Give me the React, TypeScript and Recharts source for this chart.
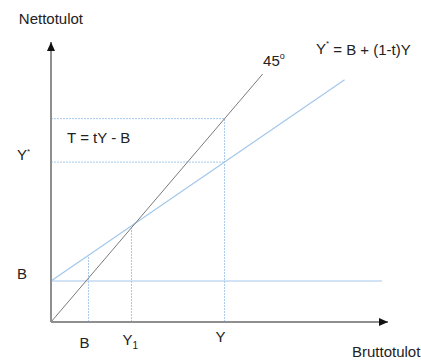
import React from "react";
import { ComposedChart, Line, XAxis, YAxis, ReferenceDot } from "recharts";

// Values in chart units (gross income on x, net income on y)
const B_VALUE = 1;
const B_X = 1.07;
const Y1_VALUE = 2.3;
const Y_VALUE = 4.96;
const YSTAR_VALUE = 3.9;
const X_MAX = 9.63;
const Y_MAX = 6.83;

const line45 = [
  { x: 0, y: 0 },
  { x: 6.05, y: 6.05 },
];
const netIncomeLine = [
  { x: 0, y: 1 },
  { x: 8.39, y: 5.91 },
];
const basicIncomeLine = [
  { x: 0, y: 1 },
  { x: 9.46, y: 1 },
];
const vertB = [
  { x: B_X, y: 0 },
  { x: B_X, y: 1.62 },
];
const vertY1 = [
  { x: Y1_VALUE, y: 0 },
  { x: Y1_VALUE, y: 2.3 },
];
const vertY = [
  { x: Y_VALUE, y: 0 },
  { x: Y_VALUE, y: Y_VALUE },
];
const horizY = [
  { x: 0, y: Y_VALUE },
  { x: Y_VALUE, y: Y_VALUE },
];
const horizYstar = [
  { x: 0, y: YSTAR_VALUE },
  { x: Y_VALUE, y: YSTAR_VALUE },
];

const xTicks = [B_X, Y1_VALUE, Y_VALUE];
const xTickLabels = ["B", "Y1", "Y"];
const yTicks = [B_VALUE, YSTAR_VALUE];
const yTickLabels = ["B", "Y*"];

const FONT = "'Liberation Sans', Arial, sans-serif";
const FS = 15;
const BLUE = "#a3c7ea";
const DOT_BLUE = "#a6c9ec";
const AXIS = "#8f8f8f";

const XTick = (props: any) => {
  const { x, payload } = props;
  const i = xTicks.indexOf(payload.value);
  const label = xTickLabels[i];
  const baseY = 322;
  if (label === "Y1") {
    return (
      <text x={x - 9} y={baseY + 23} fontSize={FS} fontFamily={FONT} fill="#222">
        Y<tspan fontSize={10} dy={4}>1</tspan>
      </text>
    );
  }
  const dy = label === "Y" ? 20 : 26;
  return (
    <text x={x - 4} y={baseY + dy} fontSize={FS} fontFamily={FONT} fill="#222" textAnchor="middle">
      {label}
    </text>
  );
};

const YTick = (props: any) => {
  const { y, payload } = props;
  const i = yTicks.indexOf(payload.value);
  const label = yTickLabels[i];
  if (label === "Y*") {
    return (
      <text x={17} y={y - 2} fontSize={FS} fontFamily={FONT} fill="#222">
        Y<tspan fontSize={8} dy={-6}>*</tspan>
      </text>
    );
  }
  return (
    <text x={17} y={y - 2} fontSize={FS} fontFamily={FONT} fill="#222">
      {label}
    </text>
  );
};

const ArrowRight = (props: any) => {
  const { cx, cy } = props;
  return <polygon points={`${cx},${cy} ${cx - 9},${cy - 4} ${cx - 9},${cy + 4}`} fill="#111" />;
};
const ArrowUp = (props: any) => {
  const { cx, cy } = props;
  return <polygon points={`${cx},${cy} ${cx - 4},${cy + 9} ${cx + 4},${cy + 9}`} fill="#111" />;
};

const makeText = (content: React.ReactNode, anchor: string = "start") => (props: any) => {
  const { cx, cy } = props;
  return (
    <text x={cx} y={cy} fontSize={FS} fontFamily={FONT} fill="#222" textAnchor={anchor} dominantBaseline="central">
      {content}
    </text>
  );
};

const TextTY = makeText("T = tY - B");
const Text45 = makeText(
  <>
    45<tspan fontSize={9} dy={-5}>o</tspan>
  </>
);
const TextEq = makeText(
  <>
    Y<tspan fontSize={8} dy={-6}>*</tspan>
    <tspan dy={6}> = B + (1-t)Y</tspan>
  </>
);
const TextNetto = makeText("Nettotulot");
const TextBrutto = makeText("Bruttotulot");

export default function App() {
  const dotted = { stroke: DOT_BLUE, strokeWidth: 1, strokeDasharray: "2 1", dot: false, isAnimationActive: false } as const;
  return (
    <div style={{ position: "absolute", left: 0, top: 0 }}>
      <ComposedChart width={421} height={360} margin={{ top: 42, right: 33, bottom: 0, left: 0 }}>
        <XAxis
          type="number"
          dataKey="x"
          domain={[0, X_MAX]}
          ticks={xTicks}
          tick={<XTick />}
          tickLine={false}
          axisLine={{ stroke: AXIS, strokeWidth: 2 }}
          height={38}
          allowDataOverflow
        />
        <YAxis
          type="number"
          dataKey="y"
          domain={[0, Y_MAX]}
          ticks={yTicks}
          tick={<YTick />}
          tickLine={false}
          axisLine={{ stroke: AXIS, strokeWidth: 2 }}
          width={51}
          allowDataOverflow
        />
        <Line data={horizY} dataKey="y" {...dotted} />
        <Line data={horizYstar} dataKey="y" {...dotted} />
        <Line data={vertB} dataKey="y" {...dotted} />
        <Line data={vertY1} dataKey="y" {...dotted} />
        <Line data={vertY} dataKey="y" {...dotted} />
        <Line data={basicIncomeLine} dataKey="y" stroke={BLUE} strokeWidth={1.2} dot={false} isAnimationActive={false} />
        <Line data={netIncomeLine} dataKey="y" stroke={BLUE} strokeWidth={1.2} dot={false} isAnimationActive={false} />
        <Line data={line45} dataKey="y" stroke="#7a7a7a" strokeWidth={1} dot={false} isAnimationActive={false} />
        <ReferenceDot x={X_MAX} y={0} r={0} shape={<ArrowRight />} ifOverflow="visible" />
        <ReferenceDot x={0} y={Y_MAX} r={0} shape={<ArrowUp />} ifOverflow="visible" />
        <ReferenceDot x={0.46} y={4.51} r={0} shape={<TextTY />} ifOverflow="visible" />
        <ReferenceDot x={6.06} y={6.37} r={0} shape={<Text45 />} ifOverflow="visible" />
        <ReferenceDot x={7.57} y={6.66} r={0} shape={<TextEq />} ifOverflow="visible" />
        <ReferenceDot x={-0.92} y={7.41} r={0} shape={<TextNetto />} ifOverflow="visible" />
        <ReferenceDot x={8.6} y={-0.71} r={0} shape={<TextBrutto />} ifOverflow="visible" />
      </ComposedChart>
    </div>
  );
}
